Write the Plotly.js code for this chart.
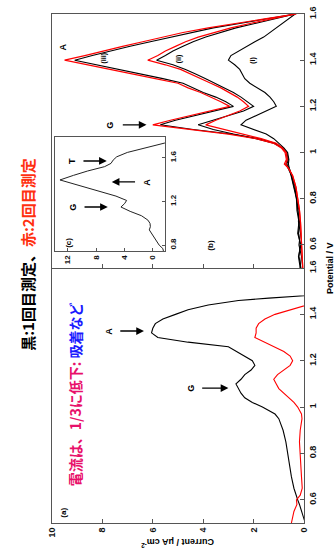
<!DOCTYPE html>
<html>
<head>
<meta charset="utf-8">
<script src="https://cdn.plot.ly/plotly-3.0.1.min.js"></script>
<style>html,body{margin:0;padding:0;background:#fff;}#chart{width:335px;height:553px;}</style>
</head>
<body>
<div id="chart"></div>
<script>
// ---------- data ----------
// Panel (b): potential grid (V) and currents (µA cm^-2)
const potB = [0.50,0.55,0.60,0.65,0.70,0.75,0.80,0.85,0.90,0.93,0.95,0.97,1.00,1.02,1.04,1.06,1.08,1.10,1.12,1.14,1.16,1.18,1.20,1.22,1.24,1.26,1.28,1.30,1.32,1.34,1.36,1.38,1.40,1.42,1.44,1.46,1.48,1.50,1.52,1.54,1.56,1.58,1.60];
const b3Red   = [0.05,0.07,0.09,0.11,0.14,0.18,0.24,0.32,0.45,0.6,0.78,0.7,0.75,0.9,1.2,1.9,3.0,4.6,6.0,5.3,4.5,3.7,2.95,3.3,3.7,4.1,4.6,5.0,5.9,6.8,7.7,8.6,9.5,8.7,8.0,7.2,6.4,5.6,4.8,3.8,2.7,1.5,0.3];
const b3Black = [0.12,0.2,0.15,0.22,0.18,0.25,0.28,0.38,0.5,0.62,0.72,0.66,0.7,0.85,1.15,1.8,2.9,4.4,5.7,5.1,4.3,3.5,2.8,3.1,3.5,4.0,4.4,4.8,5.6,6.5,7.4,8.3,9.1,8.4,7.7,6.9,6.1,5.3,4.5,3.6,2.5,1.4,0.35];
const b2Red   = [0.05,0.07,0.09,0.11,0.14,0.18,0.24,0.32,0.45,0.6,0.72,0.66,0.7,0.85,1.1,1.7,2.4,3.2,3.9,3.5,3.0,2.55,2.2,2.4,2.65,2.95,3.3,3.7,4.1,4.5,4.9,5.5,6.2,5.8,5.5,5.1,4.7,4.2,3.6,2.9,2.1,1.2,0.35];
const b2Black = [0.15,0.1,0.2,0.14,0.22,0.2,0.3,0.35,0.48,0.58,0.68,0.62,0.68,0.85,1.2,1.9,2.8,3.6,4.2,3.6,3.0,2.4,2.0,2.25,2.5,2.8,3.15,3.5,3.9,4.3,4.7,5.2,5.85,5.5,5.2,4.8,4.4,3.9,3.3,2.7,1.9,1.1,0.35];
const b1Black = [0.15,0.22,0.12,0.25,0.2,0.28,0.3,0.4,0.5,0.58,0.62,0.6,0.65,0.8,1.0,1.2,1.5,2.0,2.5,2.3,1.9,1.5,1.1,1.2,1.35,1.55,1.85,2.15,2.35,2.45,2.55,2.75,3.0,2.9,2.6,2.3,1.95,1.6,1.35,1.1,0.85,0.6,0.35];

// Panel (a)
const potA = [0.50,0.52,0.55,0.58,0.60,0.62,0.65,0.70,0.75,0.80,0.85,0.90,0.95,0.97,1.00,1.02,1.04,1.06,1.08,1.10,1.12,1.14,1.16,1.18,1.20,1.22,1.24,1.26,1.28,1.30,1.32,1.34,1.36,1.38,1.40,1.42,1.44,1.45,1.46,1.47,1.48,1.50];
const aBlack = [-0.05,0.0,0.08,0.18,0.25,0.32,0.4,0.5,0.57,0.63,0.72,0.83,1.0,1.15,1.65,2.05,2.35,2.5,2.6,2.7,2.5,2.35,2.1,1.95,2.05,2.35,2.7,3.0,4.6,5.8,6.05,6.0,5.9,5.6,5.1,4.6,3.8,3.2,2.6,1.4,0.0,-1.0];
const aRed   = [0.5,0.45,0.4,0.28,0.3,0.15,0.07,0.1,0.12,0.15,0.18,0.15,0.08,0.1,0.25,0.4,0.6,0.8,1.0,1.1,1.2,1.05,0.8,0.55,0.45,0.55,0.8,1.2,1.6,1.95,1.9,1.9,1.8,1.55,1.15,0.55,0.0,-0.3,-0.6,-0.9,-1.2,-2];

// Inset (c)
const potC = [0.745,0.77,0.80,0.85,0.88,0.91,0.94,0.97,1.00,1.03,1.07,1.11,1.15,1.18,1.21,1.25,1.30,1.35,1.398,1.44,1.48,1.52,1.55,1.58,1.61,1.65,1.70,1.74,1.79];
const curC = [-1.5,-1.4,-0.9,-0.4,-0.1,0.2,0.5,0.35,0.4,0.7,1.6,3.2,4.5,4.0,3.7,5.2,7.8,10.6,13.1,11.2,9.2,6.8,5.9,5.6,5.1,3.6,0.6,-1.9,-3.5];

// tick labels
const curTicks = [0,2,4,6,8,10];
const potTicks = [0.6,0.8,1,1.2,1.4,1.6];
const potTickText = ['0.6','0.8','1','1.2','1.4','1.6'];
const insetCurTicks = [0,4,8,12];
const insetPotTicks = [0.8,1.2,1.6];

// ---------- chart ----------
const tf = {family:'Liberation Sans, Arial, sans-serif', size:9, color:'#111', weight:700};
const axLine = '#555';

function line(x, y, color, xa, ya, w){
  return {x:x, y:y, xaxis:xa, yaxis:ya, mode:'lines', type:'scatter',
          line:{color:color, width:w||1.1}, hoverinfo:'skip'};
}

const traces = [
  line(aBlack, potA, '#000', 'x', 'y', 1.1),
  line(aRed, potA, '#ff0000', 'x', 'y', 1.1),
  line(b1Black, potB, '#000', 'x2', 'y2', 1.1),
  line(b2Black, potB, '#000', 'x2', 'y2', 1.1),
  line(b3Black, potB, '#000', 'x2', 'y2', 1.1),
  line(b2Red, potB, '#ff0000', 'x2', 'y2', 1.2),
  line(b3Red, potB, '#ff0000', 'x2', 'y2', 1.2),
  line(curC, potC, '#222', 'x3', 'y3', 1)
];

const curAxis = {range:[10,0], tickvals:curTicks, ticks:'inside', ticklen:4, tickcolor:axLine,
  tickangle:-90, showline:true, linecolor:axLine, linewidth:1, showgrid:false, zeroline:false,
  tickfont:tf, fixedrange:true};
const potAxis = {range:[0.5,1.6], tickvals:potTicks, ticktext:potTickText, side:'right', ticks:'inside',
  ticklen:4, tickcolor:axLine, tickangle:-90, showline:true, linecolor:axLine, linewidth:1, mirror:true,
  showgrid:false, zeroline:false, tickfont:tf, fixedrange:true};

function txt(x, y, xr, yr, t, size, extra){
  return Object.assign({x:x, y:y, xref:xr, yref:yr, text:t, showarrow:false, textangle:-90,
    xanchor:'center', yanchor:'middle',
    font:{family:'Liberation Sans, Arial, sans-serif', size:size||9, color:'#000', weight:700}}, extra||{});
}
function arr(x, y, ax, xr, yr){
  return {x:x, y:y, ax:ax, ay:y, xref:xr, yref:yr, axref:xr, ayref:yr, text:'', showarrow:true,
    arrowhead:2, arrowsize:1.1, arrowwidth:1.4, arrowcolor:'#000', standoff:0, startstandoff:0};
}

const annotations = [
  // panel (a)
  txt(9.56, 0.545, 'x', 'y', '(a)', 8),
  txt(7.75, 1.328, 'x', 'y', 'A', 9),
  arr(6.35, 1.328, 7.35, 'x', 'y'),
  txt(4.5, 1.082, 'x', 'y', 'G', 9),
  arr(3.0, 1.082, 4.1, 'x', 'y'),
  // panel (b)
  txt(3.7, 0.6, 'x2', 'y2', '(b)', 8),
  txt(9.56, 1.455, 'x2', 'y2', 'A', 9),
  txt(7.95, 1.41, 'x2', 'y2', '(iii)', 7),
  txt(4.95, 1.405, 'x2', 'y2', '(ii)', 7),
  txt(2.0, 1.40, 'x2', 'y2', '(i)', 7),
  txt(7.7, 1.12, 'x2', 'y2', 'G', 9),
  arr(6.25, 1.12, 7.25, 'x2', 'y2'),
  // inset (c)
  txt(12.0, 0.82, 'x3', 'y3', '(c)', 8),
  txt(11.4, 1.572, 'x3', 'y3', 'T', 9),
  arr(6.5, 1.572, 10.0, 'x3', 'y3'),
  txt(11.3, 1.15, 'x3', 'y3', 'G', 9),
  arr(6.35, 1.15, 9.85, 'x3', 'y3'),
  txt(0.85, 1.38, 'x3', 'y3', 'A', 9),
  arr(5.8, 1.38, 2.3, 'x3', 'y3'),
  // axis titles
  txt(1.103, 0.501, 'paper', 'paper', 'Potential / V', 9),
  txt(0.5, -0.038, 'paper', 'paper', 'Current / μA cm<sup>-2</sup>', 9, {textangle:180}),
  // Japanese notes
  txt(-0.095, 0.527, 'paper', 'paper',
      '<span style="color:#000000">黒:1回目測定、</span><span style="color:#ff3010">赤:2回目測定</span>', 15,
      {font:{family:'Noto Sans CJK JP', size:15, color:'#000', weight:700}}),
  txt(0.091, 0.253, 'paper', 'paper',
      '<span style="color:#e8106a">電流は、1/3に低下: </span><span style="color:#1a1aff">吸着など</span>', 14,
      {font:{family:'Noto Sans CJK JP', size:14, color:'#e8106a', weight:700}})
];

const layout = {
  width:335, height:553,
  margin:{l:52, r:31, t:14, b:30, pad:0},
  paper_bgcolor:'#fff', plot_bgcolor:'rgba(0,0,0,0)',
  showlegend:false,
  xaxis: Object.assign({}, curAxis, {domain:[0,1], anchor:'y', mirror:false}),
  yaxis: Object.assign({}, potAxis, {domain:[0,0.501], anchor:'x'}),
  xaxis2: Object.assign({}, curAxis, {domain:[0,1], anchor:'y2', showticklabels:false, mirror:true}),
  yaxis2: Object.assign({}, potAxis, {domain:[0.501,1], anchor:'x2'}),
  xaxis3: Object.assign({}, curAxis, {domain:[0.012,0.448], anchor:'y3', range:[13.8,-1.7],
           tickvals:insetCurTicks, ticklen:3, mirror:true, tickfont:Object.assign({}, tf, {size:8})}),
  yaxis3: Object.assign({}, potAxis, {domain:[0.534,0.758], anchor:'x3', range:[0.745,1.79],
           tickvals:insetPotTicks, ticktext:['0.8','1.2','1.6'], ticklen:3, tickfont:Object.assign({}, tf, {size:8})}),
  annotations: annotations
};

Plotly.newPlot('chart', traces, layout, {staticPlot:true, displayModeBar:false});
</script>
</body>
</html>
